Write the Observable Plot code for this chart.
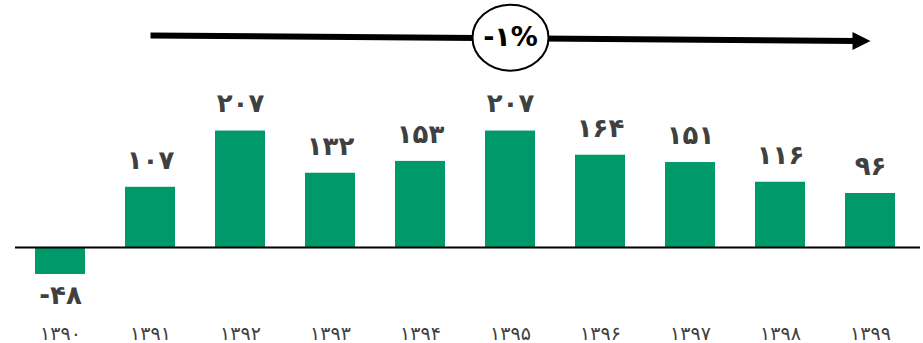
<!DOCTYPE html>
<html>
<head>
<meta charset="utf-8">
<script src="https://cdn.jsdelivr.net/npm/d3@7"></script>
<script src="https://cdn.jsdelivr.net/npm/@observablehq/plot@0.6"></script>
<style>
  html, body { margin: 0; padding: 0; background: #fff; }
</style>
</head>
<body>
<div id="chart"></div>
<script>
// ---- data ----
const years = ["1390", "1391", "1392", "1393", "1394", "1395", "1396", "1397", "1398", "1399"];
const yearLabels = ["۱۳۹۰", "۱۳۹۱", "۱۳۹۲", "۱۳۹۳", "۱۳۹۴", "۱۳۹۵", "۱۳۹۶", "۱۳۹۷", "۱۳۹۸", "۱۳۹۹"];
const values = [-48, 107, 207, 132, 153, 207, 164, 151, 116, 96];
const valueLabels = ["-۴۸", "۱۰۷", "۲۰۷", "۱۳۲", "۱۵۳", "۲۰۷", "۱۶۴", "۱۵۱", "۱۱۶", "۹۶"];
const trendLabel = "-۱%";
const trendFrom = "1391";
const trendTo = "1399";
const trendMid = "1395";

// ---- build ----
const data = years.map((y, i) => ({year: y, value: values[i], label: valueLabels[i]}));
const yearFmt = new Map(years.map((y, i) => [y, yearLabels[i]]));
const trend = [{from: trendFrom, to: trendTo, mid: trendMid, y1: 377, y2: 367, ym: 373, label: trendLabel}];

const ellipse = {
  draw(ctx) {
    const rx = 38, ry = 33, k = 0.5523;
    ctx.moveTo(rx, 0);
    ctx.bezierCurveTo(rx, ry * k, rx * k, ry, 0, ry);
    ctx.bezierCurveTo(-rx * k, ry, -rx, ry * k, -rx, 0);
    ctx.bezierCurveTo(-rx, -ry * k, -rx * k, -ry, 0, -ry);
    ctx.bezierCurveTo(rx * k, -ry, rx, -ry * k, rx, 0);
    ctx.closePath();
  }
};
const head = {
  draw(ctx) {
    ctx.moveTo(0, 0);
    ctx.lineTo(-18, -9);
    ctx.lineTo(-18, 9);
    ctx.closePath();
  }
};

const green = "#00996a";
const labelColor = "#404040";

const chart = Plot.plot({
  width: 923,
  height: 343,
  marginTop: 0,
  marginBottom: 24,
  marginLeft: 15,
  marginRight: 3,
  style: {fontFamily: "DejaVu Sans", background: "#fff"},
  x: {domain: years, range: [15, 915], paddingInner: 4 / 9, paddingOuter: 2 / 9},
  y: {domain: [-128, 439], axis: null},
  marks: [
    Plot.barY(data, {x: "year", y: "value", fill: green}),
    Plot.ruleY([0], {stroke: "#000", strokeWidth: 2}),
    Plot.text(data.filter(d => d.value >= 0), {
      x: "year", y: "value", text: "label", dy: -27,
      fontSize: 26, fontWeight: "bold", fill: labelColor
    }),
    Plot.text(data.filter(d => d.value < 0), {
      x: "year", y: "value", text: "label", dy: 21,
      fontSize: 26, fontWeight: "bold", fill: labelColor
    }),
    Plot.axisX({
      tickSize: 0, tickPadding: 7, fontSize: 19, color: "#404040",
      tickFormat: d => yearFmt.get(d), label: null
    }),
    Plot.arrow(trend, {
      x1: "from", x2: "to", y1: "y1", y2: "y2",
      headLength: 0, insetEnd: 14, strokeWidth: 6,
      strokeLinecap: "butt", stroke: "#000"
    }),
    Plot.dot(trend, {x: "to", y: "y2", symbol: head, fill: "#000", stroke: null, r: 10}),
    Plot.dot(trend, {x: "mid", y: "ym", symbol: ellipse, fill: "#fff", stroke: "#000", strokeWidth: 2, r: 30}),
    Plot.text(trend, {x: "mid", y: "ym", text: "label", fontSize: 27, fontWeight: "bold", fill: "#000"})
  ]
});

document.getElementById("chart").appendChild(chart);
</script>
</body>
</html>
